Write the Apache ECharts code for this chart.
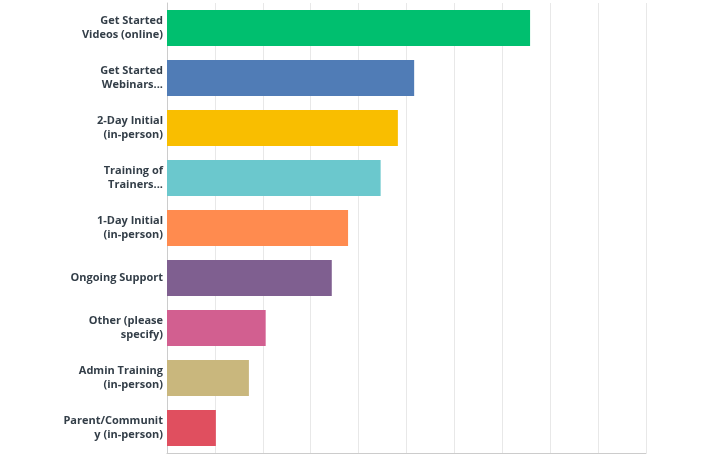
<!DOCTYPE html>
<html><head><meta charset="utf-8">
<script src="https://cdn.jsdelivr.net/npm/echarts@6/dist/echarts.min.js"></script>
<style>html,body{margin:0;padding:0;background:#fff}#c{width:728px;height:454px}</style>
</head><body><div id="c"></div>
<script>
const categories = [
  "Get Started\nVideos (online)",
  "Get Started\nWebinars...",
  "2-Day Initial\n(in-person)",
  "Training of\nTrainers...",
  "1-Day Initial\n(in-person)",
  "Ongoing Support",
  "Other (please\nspecify)",
  "Admin Training\n(in-person)",
  "Parent/Communit\ny (in-person)"
];
const values = [75.8, 51.6, 48.2, 44.6, 37.8, 34.4, 20.6, 17.1, 10.2];
const colors = ["#00bf6f", "#507cb6", "#f9be00", "#6bc8cd", "#ff8b4f", "#7f5f90", "#d25f90", "#c9b77d", "#e04f5f"];

const chart = echarts.init(document.getElementById('c'), null, {renderer: 'canvas'});
chart.setOption({
  animation: false,
  grid: {left: 167, right: 82, top: 3, bottom: 1, containLabel: false},
  xAxis: {
    type: 'value', min: 0, max: 100, interval: 10,
    axisLabel: {show: false}, axisTick: {show: false},
    axisLine: {show: true, lineStyle: {color: '#cccccc', width: 1}},
    splitLine: {show: true, lineStyle: {color: '#e8e8e8', width: 1}}
  },
  yAxis: {
    type: 'category', data: categories, inverse: true,
    axisTick: {show: false},
    axisLine: {show: true, lineStyle: {color: '#cccccc', width: 1}},
    axisLabel: {
      color: '#333e48', fontFamily: 'Open Sans', fontWeight: 'bold', fontSize: 11,
      lineHeight: 14, margin: 4, align: 'right'
    }
  },
  series: [{
    type: 'bar', barWidth: 36,
    data: values.map((v, i) => ({value: v, itemStyle: {color: colors[i]}}))
  }]
});
</script></body></html>
